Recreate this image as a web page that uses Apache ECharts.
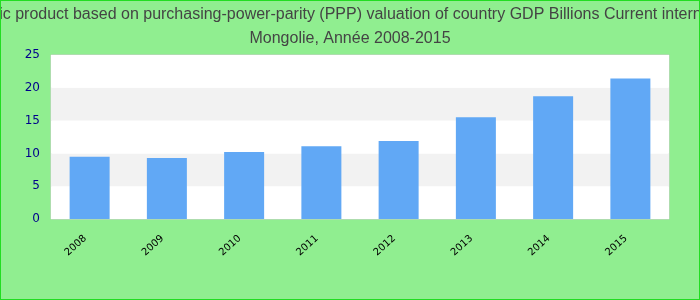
<!DOCTYPE html>
<html><head><meta charset="utf-8">
<script src="https://cdn.jsdelivr.net/npm/echarts@6/dist/echarts.min.js"></script>
<style>html,body{margin:0;padding:0;background:#90EE90;}#c{width:700px;height:300px;box-sizing:border-box;border:1px solid #22dd22;}</style>
</head><body><div id="c"></div>
<script>
var titleLine1 = "Gross domestic product based on purchasing-power-parity (PPP) valuation of country GDP Billions Current international dollars";
var titleLine2 = "Mongolie, Année 2008-2015";
var years = ["2008","2009","2010","2011","2012","2013","2014","2015"];
var gdpValues = [9.5, 9.3, 10.2, 11.1, 11.9, 15.5, 18.7, 21.4];
var yTicks = [0, 5, 10, 15, 20, 25];

var chart = echarts.init(document.getElementById('c'), null, {renderer:'canvas'});
chart.setOption({
  backgroundColor: '#90EE90',
  animation: false,
  title: {
    text: titleLine1 + "\n" + titleLine2,
    left: 'center', top: -3,
    textStyle: {color:'#444', fontSize:16, fontWeight:'normal', fontFamily:'Liberation Sans, Arial', lineHeight:24}
  },
  grid: {left:50, right:30, top:54, bottom:80, show:true, backgroundColor:'#fff', borderColor:'#ccc', borderWidth:1},
  xAxis: {
    type:'category', data: years,
    axisLine:{show:false}, axisTick:{show:false},
    axisLabel:{rotate:42, color:'#000', fontSize:10, fontFamily:'DejaVu Sans', margin:14, padding:[0,6,0,0]}
  },
  yAxis: {
    type:'value', min: yTicks[0], max: yTicks[yTicks.length-1], interval: 5,
    axisLine:{show:false}, axisTick:{show:false},
    splitLine:{show:false},
    splitArea:{show:true, areaStyle:{color:['#ffffff','#f2f2f2']}},
    axisLabel:{color:'#00008B', fontSize:12, fontFamily:'DejaVu Sans', margin:11}
  },
  series: [{
    type:'bar', data: gdpValues, barWidth: 40,
    itemStyle:{color:'#61a8f5'}
  }]
});
</script></body></html>
